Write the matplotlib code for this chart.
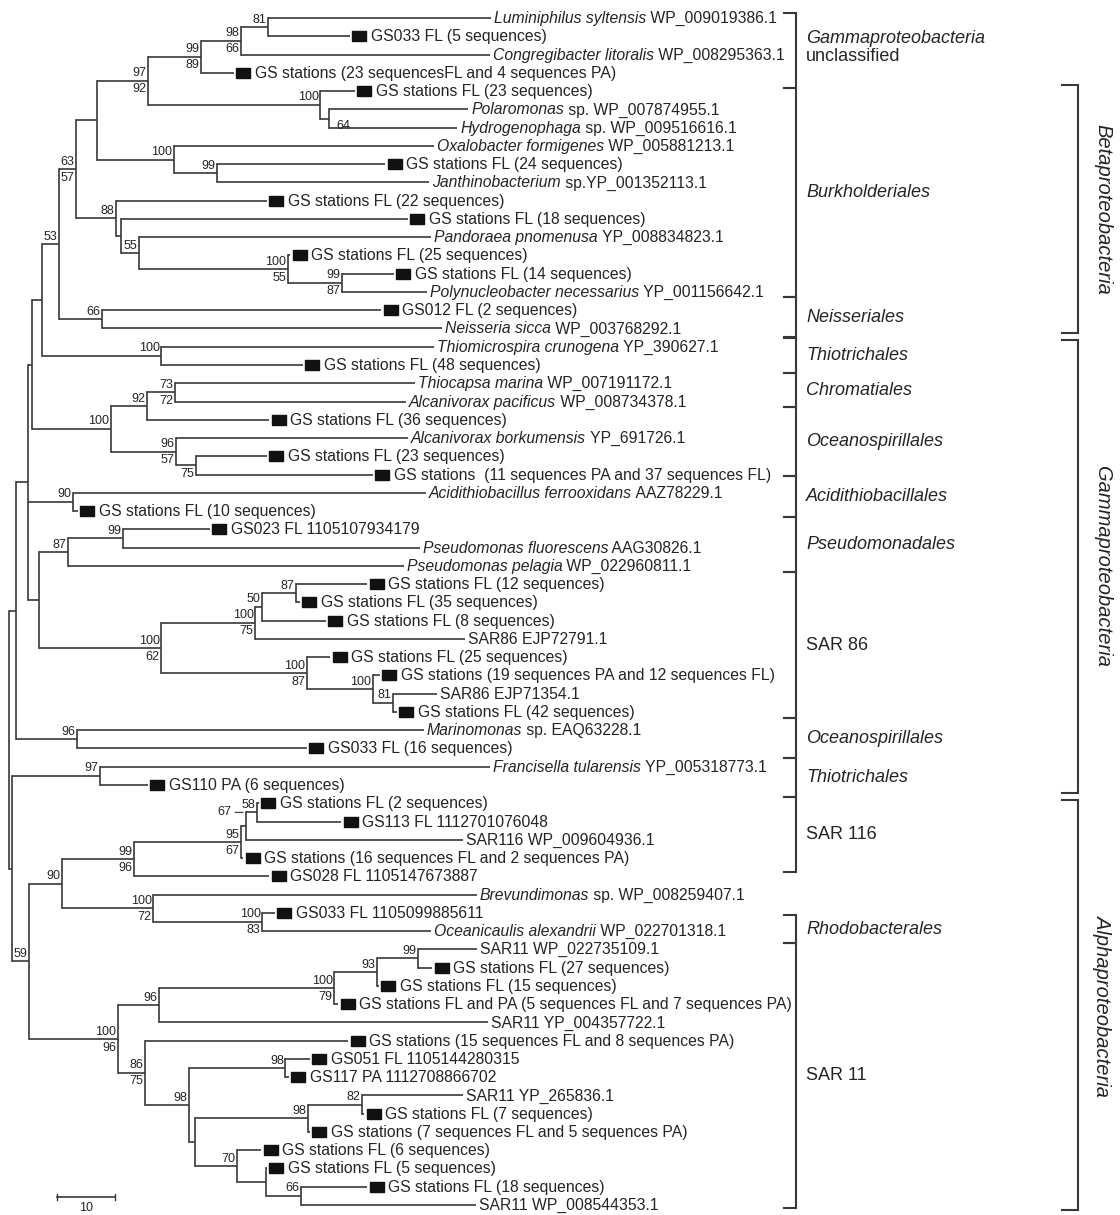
"""
Maximum-likelihood tree of environmental GS sequences and reference taxa,
redrawn with matplotlib. Output: out.png
"""
import matplotlib
matplotlib.use("Agg")

import matplotlib.pyplot as plt
from matplotlib.path import Path
from matplotlib.transforms import offset_copy, blended_transform_factory

plt.rcParams["font.family"] = ["Liberation Sans", "DejaVu Sans"]

LINE = "#383838"
TEXT = "#242424"
SUP_FS = 9

# ── Leaves, top to bottom (italic part, plain part, tip depth) ───────
leaf_italic = [
    "Luminiphilus syltensis", "", "Congregibacter litoralis", "", "",
    "Polaromonas", "Hydrogenophaga", "Oxalobacter formigenes", "", "Janthinobacterium",
    "", "", "Pandoraea pnomenusa", "", "",
    "Polynucleobacter necessarius", "", "Neisseria sicca", "Thiomicrospira crunogena", "",
    "Thiocapsa marina", "Alcanivorax pacificus", "", "Alcanivorax borkumensis", "",
    "", "Acidithiobacillus ferrooxidans", "", "", "Pseudomonas fluorescens",
    "Pseudomonas pelagia", "", "", "", "",
    "", "", "", "", "Marinomonas",
    "", "Francisella tularensis", "", "", "",
    "", "", "", "Brevundimonas", "",
    "Oceanicaulis alexandrii", "", "", "", "",
    "", "", "", "", "",
    "", "", "", "", "", "",
]
leaf_plain = [
    " WP_009019386.1", "GS033 FL (5 sequences)", " WP_008295363.1",
    "GS stations (23 sequencesFL and 4 sequences PA)", "GS stations FL (23 sequences)",
    " sp. WP_007874955.1", " sp. WP_009516616.1", " WP_005881213.1",
    "GS stations FL (24 sequences)", " sp.YP_001352113.1",
    "GS stations FL (22 sequences)", "GS stations FL (18 sequences)", " YP_008834823.1",
    "GS stations FL (25 sequences)", "GS stations FL (14 sequences)",
    " YP_001156642.1", "GS012 FL (2 sequences)", " WP_003768292.1", " YP_390627.1",
    "GS stations FL (48 sequences)",
    " WP_007191172.1", " WP_008734378.1", "GS stations FL (36 sequences)", " YP_691726.1",
    "GS stations FL (23 sequences)",
    "GS stations  (11 sequences PA and 37 sequences FL)", " AAZ78229.1",
    "GS stations FL (10 sequences)", "GS023 FL 1105107934179", " AAG30826.1",
    " WP_022960811.1", "GS stations FL (12 sequences)", "GS stations FL (35 sequences)",
    "GS stations FL (8 sequences)", "SAR86 EJP72791.1",
    "GS stations FL (25 sequences)", "GS stations (19 sequences PA and 12 sequences FL)",
    "SAR86 EJP71354.1", "GS stations FL (42 sequences)", " sp. EAQ63228.1",
    "GS033 FL (16 sequences)", " YP_005318773.1", "GS110 PA (6 sequences)",
    "GS stations FL (2 sequences)", "GS113 FL 1112701076048",
    "SAR116 WP_009604936.1", "GS stations (16 sequences FL and 2 sequences PA)",
    "GS028 FL 1105147673887", " sp. WP_008259407.1", "GS033 FL 1105099885611",
    " WP_022701318.1", "SAR11 WP_022735109.1", "GS stations FL (27 sequences)",
    "GS stations FL (15 sequences)",
    "GS stations FL and PA (5 sequences FL and 7 sequences PA)",
    "SAR11 YP_004357722.1", "GS stations (15 sequences FL and 8 sequences PA)",
    "GS051 FL 1105144280315", "GS117 PA 1112708866702", "SAR11 YP_265836.1",
    "GS stations FL (7 sequences)", "GS stations (7 sequences FL and 5 sequences PA)",
    "GS stations FL (6 sequences)", "GS stations FL (5 sequences)",
    "GS stations FL (18 sequences)", "SAR11 WP_008544353.1",
]
leaf_tip = [
    83.4, 59.1, 83.3, 39.1, 60.0, 79.5, 77.6, 73.6, 65.2, 72.8,
    44.8, 69.1, 73.1, 48.8, 66.7, 72.4, 64.5, 75.0, 73.6, 51.0,
    70.3, 68.8, 45.2, 69.1, 44.8, 63.1, 72.2, 12.2, 35.0, 71.2,
    68.4, 62.1, 50.5, 55.0, 79.0, 55.7, 64.3, 74.1, 67.2, 71.9,
    51.7, 83.3, 24.3, 43.4, 57.6, 78.6, 40.7, 45.2, 81.0, 46.2,
    73.1, 81.0, 73.3, 64.1, 57.1, 82.9, 58.8, 52.2, 48.6, 78.6,
    61.6, 52.2, 43.8, 44.8, 62.1, 80.9,
]

# ── Internal nodes: leaf span (1-based, inclusive), depth, bootstrap ─
node_first = [1, 1, 1, 6, 5, 1, 9, 8, 1, 15, 14, 13, 12, 11, 1, 17, 1, 19, 1,
              21, 21, 25, 24, 21, 1, 27, 29, 29, 32, 32, 32, 38, 37, 36, 32, 29,
              1, 40, 1, 42, 44, 44, 44, 44, 50, 49, 44, 52, 52, 52, 52, 58, 60,
              60, 65, 64, 63, 60, 58, 57, 52, 44, 42, 1]
node_last = [2, 3, 4, 7, 7, 7, 10, 10, 10, 16, 16, 16, 16, 16, 16, 18, 18, 20, 20,
             22, 23, 26, 26, 26, 26, 28, 30, 31, 33, 34, 35, 39, 39, 39, 39, 39,
             39, 41, 41, 43, 45, 46, 47, 48, 51, 51, 51, 53, 54, 55, 56, 59, 61,
             62, 66, 66, 66, 66, 66, 66, 66, 66, 66, 66]
node_depth = [45.0, 40.3, 33.4, 55.5, 54.0, 24.3, 36.2, 28.8, 15.5, 57.8, 48.4,
              22.8, 19.7, 18.8, 11.9, 16.4, 9.0, 26.6, 6.0,
              29.0, 24.1, 32.6, 29.1, 17.9, 4.3, 11.4, 20.0, 10.5, 49.8, 44.0,
              42.8, 66.6, 63.1, 51.7, 26.6, 5.5,
              3.6, 12.1, 1.6, 16.0, 43.1, 41.2, 40.3, 21.9, 44.0, 25.2, 9.5,
              70.9, 63.8, 56.4, 26.2, 48.0, 61.2,
              51.9, 50.7, 44.7, 39.7, 32.4, 31.4, 23.8, 19.1, 3.8, 0.9, 0.3]
sup_top = ["81", "98", "99", "", "100", "97", "99", "100", "", "99", "100",
           "55", "", "88", "63", "66", "53", "100", "",
           "73", "92", "", "96", "100", "", "90", "99", "87", "87", "50",
           "100", "81", "100", "100", "100", "",
           "", "96", "", "97", "58", "67", "95", "99", "100", "100", "90",
           "99", "93", "100", "96", "98", "82",
           "98", "66", "", "70", "", "98", "86", "100", "59", "", ""]
sup_bot = ["", "66", "89", "64", "", "92", "", "", "", "87", "55",
           "", "", "", "57", "", "", "", "",
           "72", "", "75", "57", "", "", "", "", "", "", "",
           "75", "", "", "87", "62", "",
           "", "", "", "", "", "", "67", "96", "83", "72", "",
           "", "", "79", "", "", "",
           "", "", "", "", "", "", "75", "96", "", "", ""]

# ── Clade annotations (spans in leaf rows, 0-based) ─────────────────
order_italic = ["Gammaproteobacteria", "Burkholderiales", "Neisseriales", "Thiotrichales",
                "Chromatiales", "Oceanospirillales", "Acidithiobacillales",
                "Pseudomonadales", "", "Oceanospirillales", "Thiotrichales", "",
                "Rhodobacterales", ""]
order_plain = ["unclassified", "", "", "", "", "", "", "", "SAR 86", "", "", "SAR 116",
               "", "SAR 11"]
order_from = [-0.27, 3.83, 15.28, 17.52, 19.44, 21.3, 25.08, 27.33, 30.34, 38.33,
              40.53, 42.66, 49.12, 50.66]
order_to = [3.83, 15.28, 17.47, 19.44, 21.3, 25.08, 27.33, 30.34, 38.33, 40.53,
            42.66, 46.77, 50.66, 65.17]

class_names = ["Betaproteobacteria", "Gammaproteobacteria", "Alphaproteobacteria"]
class_from = [3.67, 17.63, 42.83]
class_to = [17.25, 42.44, 65.28]

SCALE_LEN = 10


def tree_layout():
    by_start = {}
    for k, (a, b) in enumerate(zip(node_first, node_last)):
        by_start.setdefault(a, []).append((b, k))

    def kids(k):
        a, b = node_first[k], node_last[k]
        out, i = [], a
        while i <= b:
            best = None
            for end, j in by_start.get(i, []):
                if j != k and end <= b and (best is None or end > best[0]):
                    best = (end, j)
            if best:
                out.append(("n", best[1]))
                i = best[0] + 1
            else:
                out.append(("l", i - 1))
                i += 1
        return out

    children = {k: kids(k) for k in range(len(node_depth))}
    ny = {}

    def y_of(kind, idx):
        if kind == "l":
            return float(idx)
        if idx not in ny:
            ch = children[idx]
            ny[idx] = (y_of(*ch[0]) + y_of(*ch[-1])) / 2
        return ny[idx]

    for k in range(len(node_depth)):
        y_of("n", k)
    parent = {}
    for k, ch in children.items():
        for c in ch:
            if c[0] == "n":
                parent[c[1]] = k
    return children, ny, y_of, parent


def main():
    fig = plt.figure(figsize=(11.2, 12.15), dpi=100)
    ax = fig.add_axes([0, 0, 1, 1])
    ax.set_xlim(-1.2, 191.9)
    ax.set_ylim(65.55, -0.99)
    ax.axis("off")
    renderer = fig.canvas.get_renderer()
    px_per_unit = ax.transData.transform((1, 0))[0] - ax.transData.transform((0, 0))[0]

    children, ny, y_of, parent = tree_layout()
    lw = 1.2

    # ── Branches ──────────────────────────────────────────────────────
    for k, ch in children.items():
        x = node_depth[k]
        ax.plot([x, x], [y_of(*ch[0]), y_of(*ch[-1])], color=LINE, lw=lw,
                solid_capstyle="projecting")
        for kind, idx in ch:
            x2 = leaf_tip[idx] if kind == "l" else node_depth[idx]
            y2 = y_of(kind, idx)
            ax.plot([x, x2], [y2, y2], color=LINE, lw=lw, solid_capstyle="butt")

    # ── Bootstrap values ──────────────────────────────────────────────
    for k in range(len(node_depth)):
        x, y = node_depth[k], ny[k]
        stem = (x - node_depth[parent[k]]) * px_per_unit if k in parent else 99
        if sup_top[k]:
            if stem < 6:
                # no room on the stem: label with a leader line
                first = children[k][0]
                ax.annotate(sup_top[k], xy=(x, y_of(*first)), xytext=(-15, 0),
                            textcoords="offset pixels", ha="right", va="center",
                            fontsize=SUP_FS, color=TEXT,
                            arrowprops=dict(arrowstyle="-", color=LINE, lw=0.8,
                                            shrinkA=1, shrinkB=2))
            else:
                tr = offset_copy(ax.transData, fig=fig, x=-1.5, y=1.5, units="dots")
                ax.text(x, y, sup_top[k], transform=tr, ha="right", va="bottom",
                        fontsize=SUP_FS, color=TEXT)
        if sup_bot[k]:
            if stem < 10:
                tr = offset_copy(ax.transData, fig=fig, x=8, y=-1.5, units="dots")
                ax.text(x, y, sup_bot[k], transform=tr, ha="left", va="top",
                        fontsize=SUP_FS, color=TEXT)
            else:
                tr = offset_copy(ax.transData, fig=fig, x=-1.5, y=-2.5, units="dots")
                ax.text(x, y, sup_bot[k], transform=tr, ha="right", va="top",
                        fontsize=SUP_FS, color=TEXT)

    # ── Leaf labels ───────────────────────────────────────────────────
    rect = Path([(-1, -0.72), (1, -0.72), (1, 0.72), (-1, 0.72), (-1, -0.72)])
    fs = 11.3
    for i, (it, pl, tip) in enumerate(zip(leaf_italic, leaf_plain, leaf_tip)):
        dx = 3
        if pl.startswith("GS"):
            mk = offset_copy(ax.transData, fig=fig, x=9.5, y=0, units="dots")
            ax.plot([tip], [i], marker=rect, ms=9.6, color="#111111", ls="none",
                    transform=mk)
            dx = 21
        w = 0
        if it:
            tr = offset_copy(ax.transData, fig=fig, x=dx, y=-5, units="dots")
            t = ax.text(tip, i, it, transform=tr, fontsize=fs, style="italic",
                        va="baseline", ha="left", color=TEXT)
            w = t.get_window_extent(renderer).width
        tr = offset_copy(ax.transData, fig=fig, x=dx + w, y=-5, units="dots")
        ax.text(tip, i, pl, transform=tr, fontsize=fs, va="baseline", ha="left",
                color=TEXT)

    # ── Order brackets ────────────────────────────────────────────────
    bt = blended_transform_factory(ax.transAxes, ax.transData)
    bx, tick = 796 / 1120, 12 / 1120
    for it, pl, y0, y1 in zip(order_italic, order_plain, order_from, order_to):
        ax.plot([bx - tick, bx, bx, bx - tick], [y0, y0, y1, y1], transform=bt,
                color=LINE, lw=1.5, solid_joinstyle="miter")
        ym = (y0 + y1) / 2
        tx = bx + 10 / 1120
        if it and pl:
            ax.text(tx, ym - 0.68, it, transform=bt, fontsize=13, style="italic",
                    va="center", ha="left", color=TEXT)
            ax.text(tx, ym + 0.35, pl, transform=bt, fontsize=13,
                    va="center", ha="left", color=TEXT)
        else:
            ax.text(tx, ym, it or pl, transform=bt, fontsize=13,
                    style="italic" if it else "normal",
                    va="center", ha="left", color=TEXT)

    # ── Class brackets ────────────────────────────────────────────────
    cx, ctick = 1078 / 1120, 16 / 1120
    for name, y0, y1 in zip(class_names, class_from, class_to):
        ax.plot([cx - ctick, cx, cx, cx - ctick], [y0, y0, y1, y1], transform=bt,
                color=LINE, lw=1.5, solid_joinstyle="miter")
        ax.text(1103 / 1120, (y0 + y1) / 2, name, transform=bt, rotation=-90,
                fontsize=14.5, style="italic", ha="center", va="center", color=TEXT)

    # ── Scale bar ─────────────────────────────────────────────────────
    sx, sy = 8.6, 64.57
    ax.plot([sx, sx + SCALE_LEN], [sy, sy], color=LINE, lw=1.2)
    for xe in (sx, sx + SCALE_LEN):
        ax.plot([xe, xe], [sy - 0.15, sy + 0.15], color=LINE, lw=1.0)
    ax.text(sx + SCALE_LEN / 2, sy + 0.6, str(SCALE_LEN), fontsize=SUP_FS,
            ha="center", va="center", color=TEXT)

    fig.savefig("out.png", dpi=100, facecolor="white")
    plt.close(fig)


if __name__ == "__main__":
    main()
